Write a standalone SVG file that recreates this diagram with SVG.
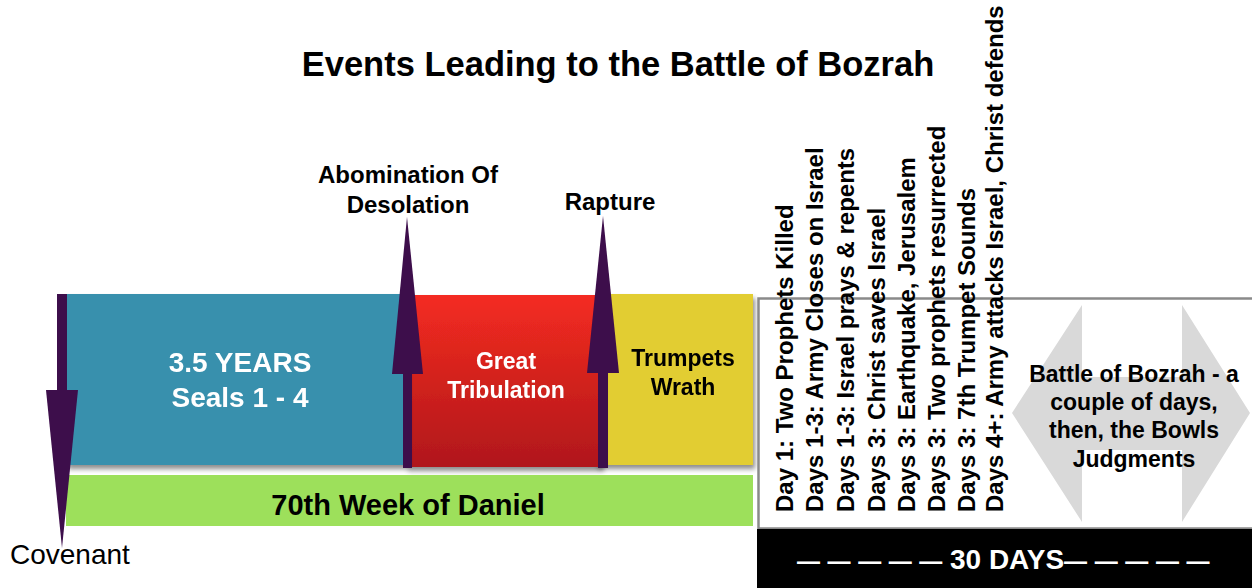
<svg xmlns="http://www.w3.org/2000/svg" width="1252" height="588" viewBox="0 0 1252 588">
  <defs>
    <linearGradient id="redGrad" x1="0" y1="0" x2="0" y2="1">
      <stop offset="0" stop-color="#f42c21"/>
      <stop offset="1" stop-color="#b0171a"/>
    </linearGradient>
    <filter id="shadow" x="-5%" y="-5%" width="115%" height="125%">
      <feGaussianBlur in="SourceAlpha" stdDeviation="2.5"/>
      <feOffset dx="2" dy="4" result="b"/>
      <feComponentTransfer><feFuncA type="linear" slope="0.45"/></feComponentTransfer>
      <feMerge><feMergeNode/><feMergeNode in="SourceGraphic"/></feMerge>
    </filter>
    <style>
      .b { font-family: "Liberation Sans", Arial, sans-serif; font-weight: bold; }
      .n { font-family: "Liberation Sans", Arial, sans-serif; }
      .c { text-anchor: middle; }
      .w { fill: #ffffff; }
      .k { fill: #000000; }
      .arrow { fill: #3d0e4b; }
      .vt { font-family: "Liberation Sans", Arial, sans-serif; font-weight: bold; font-size: 24px; fill: #000; }
    </style>
  </defs>
  <rect width="1252" height="588" fill="#ffffff"/>

  <g id="title">
    <text class="b c k" x="618" y="76" font-size="34.5">Events Leading to the Battle of Bozrah</text>
  </g>

  <g id="trumpets-wrath" filter="url(#shadow)">
    <rect x="596" y="294" width="157" height="171" fill="#e2cd33"/>
    <text class="b c k" x="683" y="366" font-size="23">Trumpets</text>
    <text class="b c k" x="683" y="395" font-size="23">Wrath</text>
  </g>

  <g id="great-tribulation" filter="url(#shadow)">
    <rect x="406" y="295" width="196" height="172" fill="url(#redGrad)"/>
    <text class="b c w" x="506" y="369" font-size="23">Great</text>
    <text class="b c w" x="506" y="398" font-size="23">Tribulation</text>
  </g>

  <g id="seals" filter="url(#shadow)">
    <rect x="66" y="294" width="341" height="171" fill="#3990ad"/>
    <text class="b c w" x="240" y="372" font-size="28">3.5 YEARS</text>
    <text class="b c w" x="240" y="407" font-size="28">Seals 1 - 4</text>
  </g>

  <g id="week70">
    <rect x="66" y="475" width="687" height="51" fill="#9de05b"/>
    <text class="b c k" x="408" y="515" font-size="29">70th Week of Daniel</text>
  </g>

  <g id="thirty-days">
    <rect x="758.5" y="298.5" width="500" height="230" fill="#ffffff" stroke="#8a8a8a" stroke-width="2.5"/>
    <rect x="757" y="529" width="495" height="59" fill="#000000"/>
    <text class="b w" x="797" y="569" font-size="28"><tspan font-size="23" letter-spacing="0.6">— — — — — </tspan>30 DAYS<tspan font-size="23" letter-spacing="0.6">— — — — —</tspan></text>
  </g>

  <g id="daily-events">
    <text class="vt" transform="translate(793 512) rotate(-90)">Day 1: Two Prophets Killed</text>
    <text class="vt" transform="translate(823 512) rotate(-90)">Days 1-3: Army Closes on Israel</text>
    <text class="vt" transform="translate(854 512) rotate(-90)">Days 1-3: Israel prays &amp; repents</text>
    <text class="vt" transform="translate(885 512) rotate(-90)">Days 3: Christ saves Israel</text>
    <text class="vt" transform="translate(915 512) rotate(-90)">Days 3: Earthquake, Jerusalem</text>
    <text class="vt" transform="translate(945 512) rotate(-90)">Days 3: Two prophets resurrected</text>
    <text class="vt" transform="translate(975 512) rotate(-90)">Days 3: 7th Trumpet Sounds</text>
    <text class="vt" transform="translate(1003 512) rotate(-90)">Days 4+: Army attacks Israel, Christ defends</text>
  </g>

  <g id="battle-of-bozrah">
    <polygon points="1012,413 1082,305 1082,377 1182,377 1182,305 1250,413 1182,522 1182,450 1082,450 1082,522" fill="#d9d9d9"/>
    <text class="b c k" x="1134" y="382" font-size="23">Battle of Bozrah - a</text>
    <text class="b c k" x="1134" y="410" font-size="23">couple of days,</text>
    <text class="b c k" x="1134" y="438" font-size="23">then, the Bowls</text>
    <text class="b c k" x="1134" y="467" font-size="23">Judgments</text>
  </g>

  <g id="connectors">
    <g id="covenant-arrow">
      <rect class="arrow" x="57" y="294" width="10" height="97"/>
      <polygon class="arrow" points="46,390 78,390 62,548"/>
    </g>
    <g id="abomination-arrow">
      <rect class="arrow" x="403" y="372" width="9" height="96"/>
      <polygon class="arrow" points="392,374 423,374 407,217"/>
    </g>
    <g id="rapture-arrow">
      <rect class="arrow" x="598" y="371" width="10" height="97"/>
      <polygon class="arrow" points="587,373 619,373 603,216"/>
    </g>
  </g>

  <g id="covenant-label">
    <text class="n k" x="10" y="564" font-size="28">Covenant</text>
  </g>
  <g id="abomination-label">
    <text class="b c k" x="408" y="183" font-size="24">Abomination Of</text>
    <text class="b c k" x="408" y="213" font-size="24">Desolation</text>
  </g>
  <g id="rapture-label">
    <text class="b c k" x="610" y="210" font-size="24">Rapture</text>
  </g>
</svg>
